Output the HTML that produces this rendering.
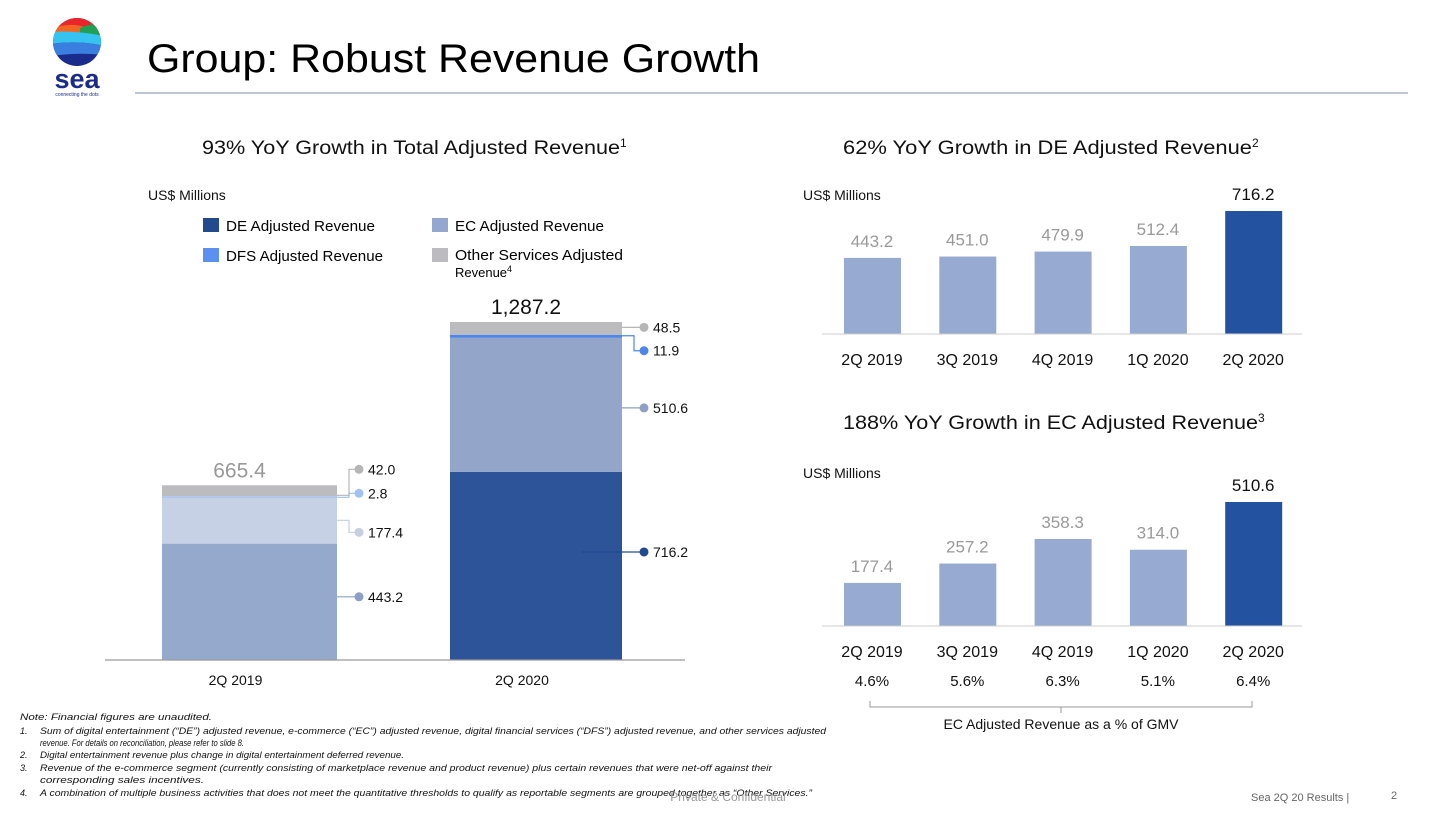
<!DOCTYPE html>
<html><head><meta charset="utf-8"><style>
html,body{margin:0;padding:0;background:#fff;}
svg{display:block;font-family:"Liberation Sans",sans-serif;}
</style></head><body>
<svg id="s" width="1456" height="819" viewBox="0 0 1456 819">
<g>
<clipPath id="lc"><circle cx="77" cy="42" r="24"/></clipPath>
<g clip-path="url(#lc)">
<rect x="50" y="15" width="60" height="60" fill="#1a2b8c"/>
<rect x="50" y="15" width="60" height="14" fill="#e8262c"/>
<path d="M50 29 Q70 22 84 27 L104 25 L104 33 Q80 36 50 34Z" fill="#f26522"/>
<path d="M80 28 Q95 22 104 25 L104 36 L80 34Z" fill="#1fa055"/>
<path d="M50 32 Q75 30 104 36 L104 46 Q80 40 50 44Z" fill="#36c3ef"/>
<path d="M50 44 Q80 40 104 46 L104 55 Q80 52 50 56Z" fill="#3a7fe0"/>
</g>
<text x="77" y="88" text-anchor="middle" font-size="27" font-weight="bold" fill="#1a2b8c">sea</text>
<text x="77" y="96" text-anchor="middle" font-size="5" fill="#1a2b8c">connecting the dots</text>
</g>
<text x="147" y="72" font-size="40" fill="#000" textLength="613" lengthAdjust="spacingAndGlyphs">Group: Robust Revenue Growth</text>
<line x1="135" y1="93" x2="1408" y2="93" stroke="#a9b4c9" stroke-width="1.5"/>

<text x="202" y="154" font-size="19" fill="#111"><tspan textLength="418" lengthAdjust="spacingAndGlyphs">93% YoY Growth in Total Adjusted Revenue</tspan><tspan font-size="12" dy="-7">1</tspan></text>
<text x="148" y="200" font-size="14" fill="#111">US$ Millions</text>
<g>
<g><rect x="203" y="218" width="16" height="14" fill="#244a8e"/><text x="226" y="231" font-size="14.5" textLength="149" lengthAdjust="spacingAndGlyphs">DE Adjusted Revenue</text></g>
<g><rect x="203" y="248" width="16" height="14" fill="#5b8ff0"/><text x="226" y="261" font-size="14.5" textLength="157" lengthAdjust="spacingAndGlyphs">DFS Adjusted Revenue</text></g>
<g><rect x="432" y="218" width="16" height="14" fill="#94a8cf"/><text x="455" y="231" font-size="14.5" textLength="149" lengthAdjust="spacingAndGlyphs">EC Adjusted Revenue</text></g>
<g><rect x="432" y="248" width="16" height="14" fill="#bcbcc0"/><text x="455" y="260" font-size="14.5" textLength="168" lengthAdjust="spacingAndGlyphs">Other Services Adjusted</text><text x="455" y="277" font-size="13">Revenue<tspan font-size="9" dy="-5">4</tspan></text></g>
</g>
<g id="left"></g>

<text x="843" y="154" font-size="19" fill="#111"><tspan textLength="409" lengthAdjust="spacingAndGlyphs">62% YoY Growth in DE Adjusted Revenue</tspan><tspan font-size="12" dy="-7">2</tspan></text>
<text x="803" y="200" font-size="14" fill="#111">US$ Millions</text>
<g id="de"></g>

<text x="843" y="429" font-size="19" fill="#111"><tspan textLength="415" lengthAdjust="spacingAndGlyphs">188% YoY Growth in EC Adjusted Revenue</tspan><tspan font-size="12" dy="-7">3</tspan></text>
<text x="803" y="478" font-size="14" fill="#111">US$ Millions</text>
<g id="ec"></g>
<path d="M870 701 V707 H1252 V701 M1061 707 V713" fill="none" stroke="#999" stroke-width="1"/>
<text x="1061" y="729" text-anchor="middle" font-size="14" fill="#111">EC Adjusted Revenue as a % of GMV</text>

<g font-size="9" font-style="italic" fill="#111">
<text x="20" y="720" textLength="192" lengthAdjust="spacingAndGlyphs">Note: Financial figures are unaudited.</text>
<text x="20" y="734">1.</text><text x="40" y="734" textLength="786" lengthAdjust="spacingAndGlyphs">Sum of digital entertainment (“DE”) adjusted revenue, e-commerce (“EC”) adjusted revenue, digital financial services (“DFS”) adjusted revenue, and other services adjusted</text>
<text x="40" y="746" textLength="204" lengthAdjust="spacingAndGlyphs">revenue. For details on reconciliation, please refer to slide 8.</text>
<text x="20" y="758">2.</text><text x="40" y="758" textLength="364" lengthAdjust="spacingAndGlyphs">Digital entertainment revenue plus change in digital entertainment deferred revenue.</text>
<text x="20" y="771">3.</text><text x="40" y="771" textLength="732" lengthAdjust="spacingAndGlyphs">Revenue of the e-commerce segment (currently consisting of marketplace revenue and product revenue) plus certain revenues that were net-off against their</text>
<text x="40" y="783" textLength="164" lengthAdjust="spacingAndGlyphs">corresponding sales incentives.</text>
<text x="20" y="796">4.</text><text x="40" y="796" textLength="772" lengthAdjust="spacingAndGlyphs">A combination of multiple business activities that does not meet the quantitative thresholds to qualify as reportable segments are grouped together as “Other Services.”</text>
</g>
<text x="728" y="801" text-anchor="middle" font-size="12" fill="#999">Private &amp; Confidential</text>
<text x="1251" y="801" font-size="11" fill="#666">Sea 2Q 20 Results |</text>
<text x="1391" y="799" font-size="11" fill="#666">2</text>
</svg>
<script>
// Left stacked chart data
const leftCategories = ["2Q 2019", "2Q 2020"];
const deValues = [443.2, 716.2];
const ecValues = [177.4, 510.6];
const dfsValues = [2.8, 11.9];
const otherValues = [42.0, 48.5];
const totalLabels = ["665.4", "1,287.2"];
// Right charts data
const quarters = ["2Q 2019", "3Q 2019", "4Q 2019", "1Q 2020", "2Q 2020"];
const deQuarterly = [443.2, 451.0, 479.9, 512.4, 716.2];
const ecQuarterly = [177.4, 257.2, 358.3, 314.0, 510.6];
const gmvPct = ["4.6%", "5.6%", "6.3%", "5.1%", "6.4%"];

const NS = "http://www.w3.org/2000/svg";
function mk(parent, tag, attrs, text) {
  const e = document.createElementNS(NS, tag);
  for (const k in attrs) e.setAttribute(k, attrs[k]);
  if (text !== undefined) e.textContent = text;
  parent.appendChild(e);
  return e;
}

// left chart
(function () {
  const g = document.getElementById("left");
  const base = 660, scale = 338 / 1287.2;
  const y = v => base - v * scale;
  const bx = [162, 450], bw = [175, 172];
  const colorsByCat = [
    ["#94a9cc", "#c6d1e5", "#a9c4f5", "#bcbcbe"],
    ["#2d5399", "#93a6ca", "#4f86e8", "#bcbcbe"]
  ];
  const dotColors = [
    ["#8d9fc4", "#c5cfe0", "#a3c1f3", "#b6b6b6"],
    ["#1f4a94", "#8d9fc4", "#4f86e8", "#b6b6b6"]
  ];
  const segNames = ["de", "ec", "dfs", "other"];
  for (let i = 0; i < leftCategories.length; i++) {
    const vals = [deValues[i], ecValues[i], dfsValues[i], otherValues[i]];
    let cum = 0;
    const mids = [];
    vals.forEach((v, j) => {
      const top = y(cum + v), h = v * scale;
      const r = mk(g, "rect", { x: bx[i], y: top, width: bw[i], height: Math.max(h, 1.5), fill: colorsByCat[i][j] });
      
      
      mids.push([top, top + h]);
      cum += v;
    });
    const xr = bx[i] + bw[i], lx = xr + 22;
    let labelYs, anchorYs;
    if (i === 0) {
      anchorYs = [(mids[0][0] + mids[0][1]) / 2 - 5, (mids[1][0] + mids[1][1]) / 2, mids[2][0] + 1, mids[3][1] - 1];
      labelYs = [anchorYs[0], anchorYs[1] + 12, anchorYs[2] - 4, anchorYs[3] - 26];
    } else {
      anchorYs = [(mids[0][0] + mids[0][1]) / 2 - 14, (mids[1][0] + mids[1][1]) / 2 + 3, mids[2][0] + 1, (mids[3][0] + mids[3][1]) / 2 - 1];
      labelYs = [anchorYs[0], anchorYs[1], anchorYs[2] + 15, anchorYs[3]];
    }
    for (let j = 0; j < 4; j++) {
      const ax = (i === 1 && j === 0) ? xr - 40 : xr;
      const p = mk(g, "path", { d: `M${ax} ${anchorYs[j]} H${xr + 12} V${labelYs[j]} H${lx}`, fill: "none", stroke: dotColors[i][j], "stroke-width": 1.2 });
      
      
      const c = mk(g, "circle", { cx: lx, cy: labelYs[j], r: 4.5, fill: dotColors[i][j] });
      
      
      const t = mk(g, "text", { x: lx + 9, y: labelYs[j] + 5, "font-size": 14, fill: "#111" }, vals[j].toFixed(1));
      
      
    }
    const tl = mk(g, "text", { x: bx[i] + bw[i] / 2 - 10, y: y(cum) - 8, "text-anchor": "middle", "font-size": 21, fill: i === 0 ? "#999" : "#111" }, totalLabels[i]);
    
    
    const xl = mk(g, "text", { x: bx[i] + bw[i] / 2 - 14, y: 685, "text-anchor": "middle", "font-size": 14, fill: "#111" }, leftCategories[i]);
    
    
  }
  const ax = mk(g, "line", { x1: 105, y1: base, x2: 685, y2: base, stroke: "#999", "stroke-width": 1.2 });
  
  
})();

function quarterChart(id, values, base, scale, prefix) {
  const g = document.getElementById(id);
  const cx = i => 872 + i * 95.3;
  const y = v => base - v * scale;
  values.forEach((v, i) => {
    const last = i === values.length - 1;
    const r = mk(g, "rect", { x: cx(i) - 28, y: y(v), width: 57, height: v * scale, fill: last ? "#2353a0" : "#97abd2" });
    
    
    const t = mk(g, "text", { x: cx(i), y: y(v) - 11, "text-anchor": "middle", "font-size": 17, fill: last ? "#111" : "#999" }, v.toFixed(1));
    
    
    const q = mk(g, "text", { x: cx(i), y: base + 31, "text-anchor": "middle", "font-size": 16, fill: "#111" }, quarters[i]);
    
    
  });
  const ax = mk(g, "line", { x1: 822, y1: base, x2: 1302, y2: base, stroke: "#ccc", "stroke-width": 1 });
  
  
  return cx;
}
quarterChart("de", deQuarterly, 334, 123 / 716.2, "de");
const cxe = quarterChart("ec", ecQuarterly, 626, 124 / 510.6, "ec");
const ecG = document.getElementById("ec");
gmvPct.forEach((p, i) => {
  const t = mk(ecG, "text", { x: cxe(i), y: 686, "text-anchor": "middle", "font-size": 15, fill: "#111" }, p);
  
  
});
</script>
</body></html>
